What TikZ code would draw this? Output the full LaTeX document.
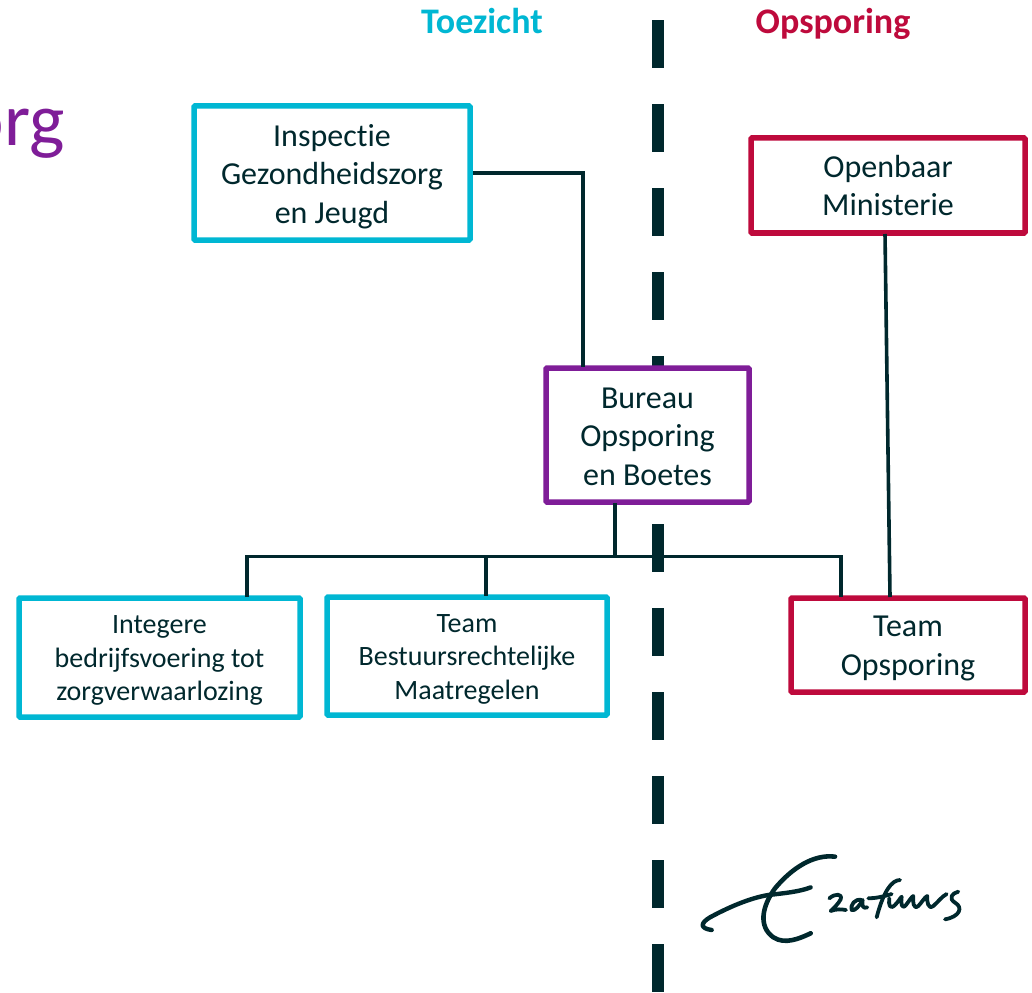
\documentclass[tikz,border=0pt]{standalone}
\usepackage{fontspec}
\setmainfont{Carlito}[RawFeature={-liga}]
\definecolor{ink}{HTML}{00282D}
\definecolor{teal}{HTML}{00B7D3}
\definecolor{paars}{HTML}{7F1D98}
\definecolor{rood}{HTML}{BE0A3C}
\newcommand{\bigtxt}{\fontsize{32}{38.5}\selectfont}
\newcommand{\smalltxt}{\fontsize{28}{33.5}\selectfont}
\newcommand{\lowr}[1]{\rule{0pt}{#1pt}}
\tikzset{
  x=1pt,y=-1pt,
  orgbox/.style={draw,line width=5.5pt,fill=white,rounded corners=1pt,align=center,text=ink,inner sep=0pt,anchor=center},
  bigbox/.style={orgbox,font=\bigtxt},
  smallbox/.style={orgbox,font=\smalltxt},
  link/.style={draw=ink,line width=3.6pt},
  pen/.style={draw=ink,line cap=round,line join=round},
  dashbar/.style={fill=ink,draw=none},
  head/.style={font=\fontsize{36}{40}\selectfont\bfseries}
}
\begin{document}
\begin{tikzpicture}
\useasboundingbox (0,0) rectangle (1032,992);
\clip (0,0) rectangle (1032,992);
\fill[white] (0,0) rectangle (1032,992);
% dashed divider
\foreach \yy in {20,104,188,272,356,524,608,692,776,860,944}
  \fill[dashbar] (652,\yy) rectangle (664,\yy+48);
% title fragment
\node[anchor=base east,text=paars,font=\fontsize{75}{80}\selectfont,inner sep=0pt] (title) at (65,146) {org};
% column heads
\node[head,text=teal] (toezicht) at (482,21) {Toezicht};
\node[head,text=rood] (opsporing) at (833,24) {Opsporing};
% boxes
\node[bigbox,draw=teal,minimum width=276pt,minimum height=134pt] (insp) at (332,173) {\lowr{29}Inspectie\\Gezondheidszorg\\en Jeugd};
\node[bigbox,draw=rood,minimum width=274pt,minimum height=95pt] (om) at (888,185.5) {Openbaar\\Ministerie};
\node[bigbox,draw=paars,minimum width=203pt,minimum height=134pt] (bureau) at (647.5,435) {\lowr{24}Bureau\\Opsporing\\en Boetes};
\node[smallbox,draw=teal,minimum width=281pt,minimum height=119pt] (integ) at (159.5,657.5) {\lowr{24}Integere\\bedrijfsvoering tot\\zorgverwaarlozing};
\node[smallbox,draw=teal,minimum width=280pt,minimum height=118pt] (bestuur) at (467,656) {\lowr{24}Team\\Bestuursrechtelijke\\Maatregelen};
\node[bigbox,draw=rood,minimum width=234pt,minimum height=94pt] (team) at (908,645) {\lowr{27}Team\\Opsporing};
% connector helpers
\coordinate (hub) at (615,556.5);
\coordinate (hl) at (247,556.5);
\coordinate (hm) at (486,556.5);
\coordinate (hr) at (841,556.5);
\coordinate (bt) at (583,367);
\coordinate (bb) at (615,503);
\coordinate (omb) at (885,234);
\coordinate (teamt) at (890,597);
\coordinate (il) at (247,597);
\coordinate (bl) at (486,596);
\coordinate (tl) at (841,597);
% connectors
\draw[link] (insp.east) -| (bt);
\draw[link] (omb) -- (teamt);
\draw[link] (bb) -- (hub);
\draw[link] (il) -- (hl) -- (hr) -- (tl);
\draw[link] (hm) -- (bl);
% dash above the bus
\fill[dashbar] (652,524) rectangle (664,572);
% signature
\begin{scope}[shift={(680,830)},x=0.3333pt,y=-0.3333pt]
\draw[pen,line width=4.6pt] (465,80) .. controls (400,72) and (335,115) .. (285,175) .. controls (245,230) and (235,290) .. (280,322) .. controls (315,345) and (360,325) .. (392,310);
\draw[pen,line width=4.4pt] (95,300) .. controls (60,295) and (60,280) .. (90,262) .. controls (140,235) and (205,205) .. (265,195) .. controls (310,190) and (360,185) .. (392,172);
\draw[pen,line width=3.8pt] (448,205) .. controls (465,190) and (488,190) .. (482,208) .. controls (475,222) and (460,235) .. (452,243) .. controls (470,236) and (485,238) .. (498,240);
\draw[pen,line width=3.8pt] (545,210) .. controls (525,205) and (510,225) .. (515,240) .. controls (525,245) and (540,225) .. (548,210) .. controls (545,225) and (548,238) .. (562,232);
\draw[pen,line width=3.8pt] (660,150) .. controls (635,150) and (610,185) .. (590,262) (565,205) .. controls (585,205) and (610,200) .. (635,192);
\draw[pen,line width=3.8pt] (628,205) .. controls (625,225) and (630,240) .. (645,225) .. controls (655,215) and (660,205) .. (665,200) .. controls (662,220) and (665,240) .. (678,225) .. controls (688,212) and (695,200) .. (700,198) .. controls (698,215) and (700,240) .. (715,228) .. controls (725,218) and (735,200) .. (742,198) .. controls (740,215) and (745,240) .. (760,228) .. controls (775,215) and (785,200) .. (800,192);
\draw[pen,line width=3.8pt] (835,185) .. controls (815,190) and (805,205) .. (825,218) .. controls (850,232) and (840,260) .. (795,268);
\end{scope}
\end{tikzpicture}
\end{document}
